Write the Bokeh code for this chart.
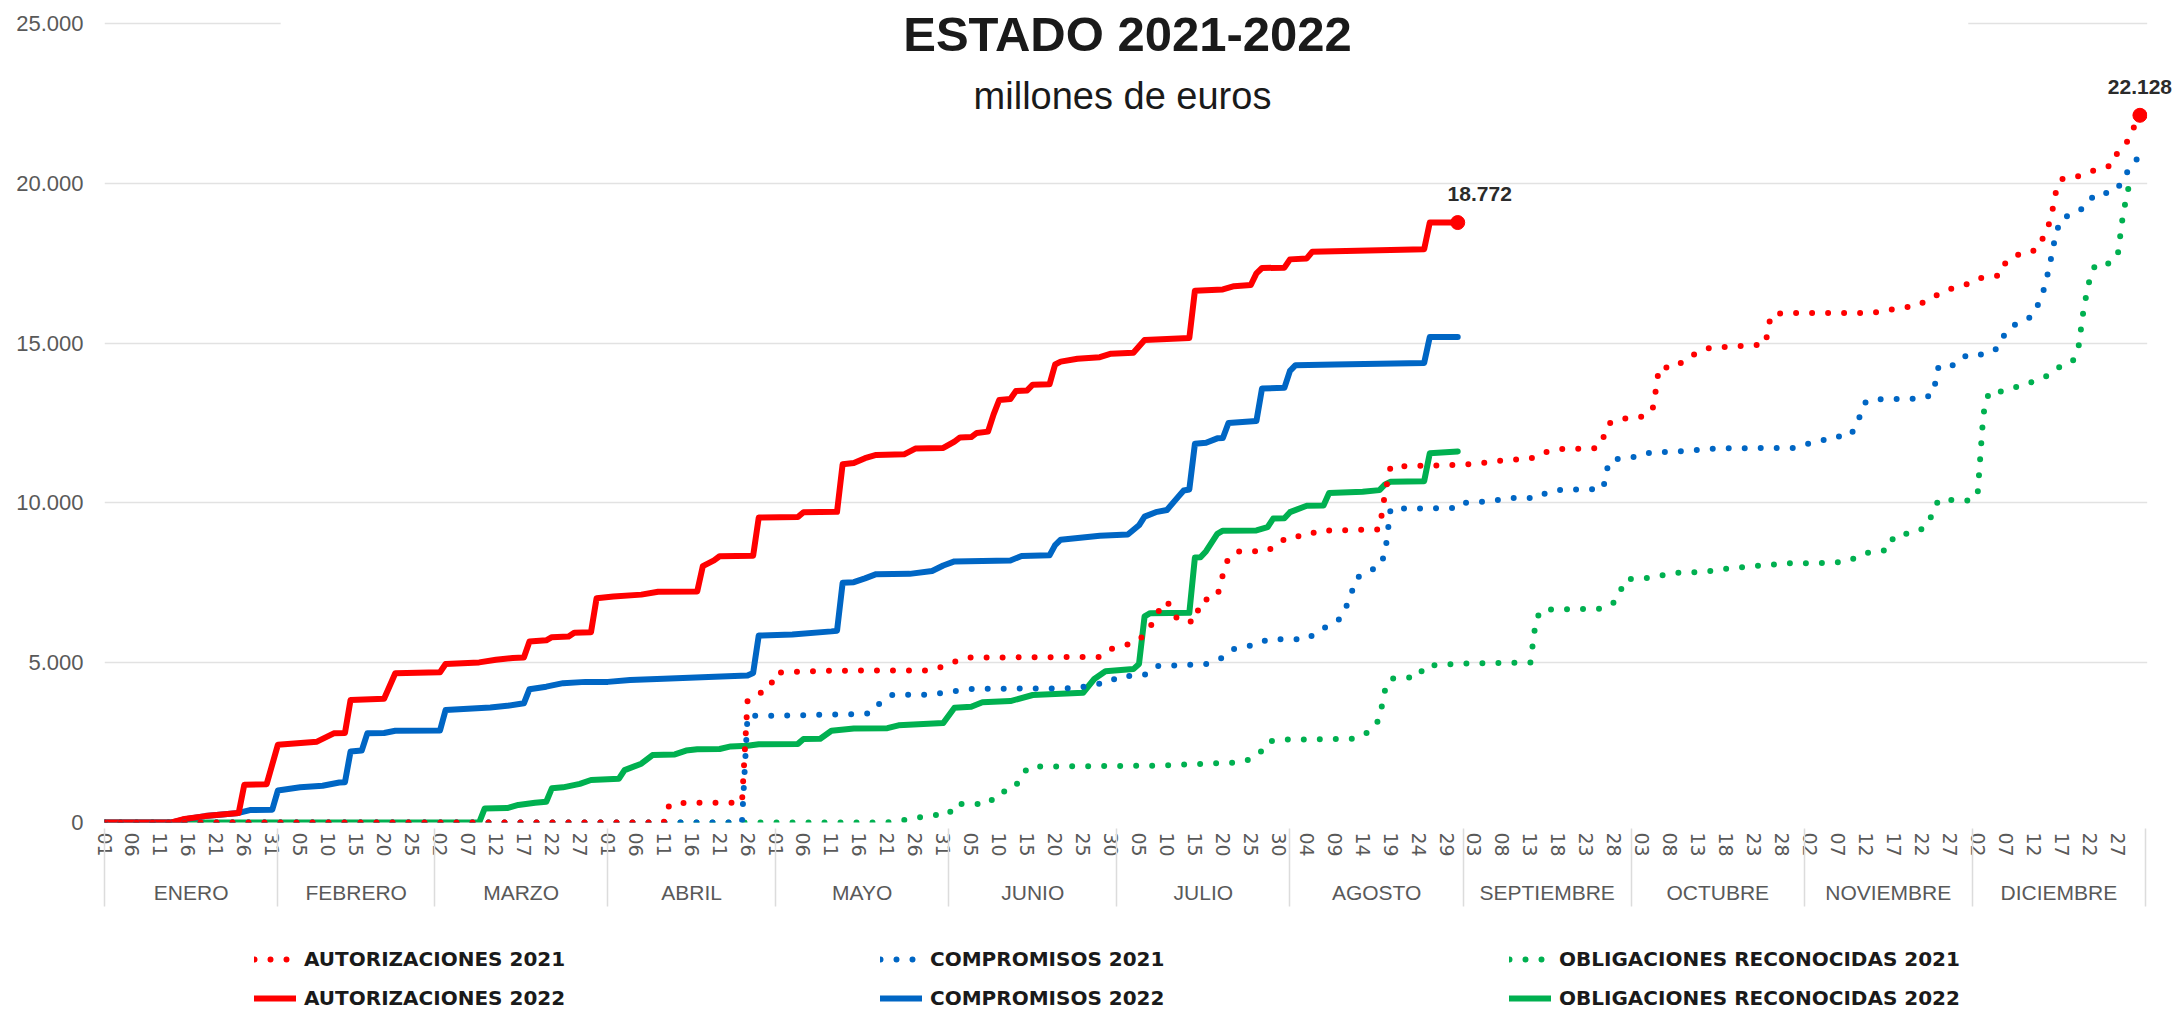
import datetime as dt
from bokeh.plotting import figure
from bokeh.layouts import column
from bokeh.models import (Range1d, FixedTicker, LinearAxis, Legend, LegendItem,
                          Label, BoxAnnotation)
from bokeh.embed import file_html
from bokeh.resources import INLINE

# ---------------- data (x = day of year, 0 = 1 January) ----------------
aut21_day = [0, 100, 101, 104, 114, 115, 117, 119, 120, 130, 148, 150, 152, 154, 178, 180, 183, 185, 187, 188,
             190, 192, 195, 196, 199, 200, 201, 203, 208, 210, 212, 215, 217, 228, 229, 230, 240, 245, 250, 255,
             257, 260, 267, 268, 269, 271, 274, 276, 277, 278, 281, 283, 285, 287, 297, 298, 300, 316, 319, 321,
             324, 326, 328, 330, 333, 335, 337, 339, 340, 342, 344, 346, 347, 348, 349, 350, 352, 355, 357, 359,
             360, 362, 363, 364]
aut21_val = [0, 0, 550, 620, 620, 3810, 4020, 4220, 4690, 4750, 4760, 4890, 5030, 5160, 5180, 5430, 5570, 5700, 6100, 6500,
             6930, 6320, 6280, 6930, 7070, 7750, 8290, 8490, 8490, 8760, 8960, 8960, 9130, 9170, 10300, 11140, 11180, 11220, 11330, 11380,
             11560, 11680, 11710, 12020, 12480, 12630, 12660, 12750, 13010, 14240, 14240, 14545, 14700, 14850, 14960, 15880, 15940, 15940, 16030, 16110,
             16150, 16350, 16530, 16690, 16840, 17020, 17070, 17120, 17530, 17760, 17800, 17990, 18450, 18830, 19750, 20130, 20160, 20360, 20470, 20560,
             20970, 21360, 21790, 22128]

cmp21_day = [0, 114, 115, 120, 134, 137, 139, 141, 148, 151, 155, 174, 176, 180, 181, 186, 188, 197, 200, 202,
             206, 208, 215, 217, 219, 221, 222, 223, 224, 226, 228, 229, 230, 242, 243, 248, 251, 256, 258, 260,
             268, 269, 271, 274, 276, 284, 286, 289, 302, 305, 307, 309, 312, 313, 315, 317, 325, 327, 328, 331,
             333, 336, 338, 339, 340, 342, 344, 345, 346, 347, 348, 349, 350, 352, 354, 356, 358, 360, 361, 363, 364]
cmp21_val = [0, 0, 3340, 3340, 3390, 3420, 3800, 4000, 4000, 4090, 4180, 4200, 4290, 4400, 4550, 4620, 4890, 4960, 5160, 5430,
             5570, 5730, 5730, 5970, 6170, 6380, 6720, 7190, 7660, 7870, 8000, 8410, 9820, 9840, 10000, 10050, 10150, 10150, 10330, 10400,
             10440, 11280, 11400, 11440, 11560, 11640, 11680, 11710, 11720, 11870, 11940, 12080, 12080, 12320, 13170, 13240, 13260, 13400, 14280, 14310,
             14620, 14650, 14770, 14960, 15360, 15620, 15770, 15880, 16300, 16760, 17560, 18450, 18910, 19030, 19240, 19670, 19700, 19800, 20210, 20590, 20970]

obl21_day = [0, 140, 143, 146, 149, 151, 152, 158, 160, 162, 164, 165, 167, 188, 203, 205, 207, 208, 210, 223,
             225, 227, 228, 229, 230, 235, 236, 238, 243, 255, 256, 257, 268, 270, 271, 272, 276, 281, 286, 291,
             296, 301, 309, 312, 314, 316, 319, 320, 322, 324, 326, 327, 328, 334, 335, 336, 337, 339, 341, 344,
             346, 348, 350, 352, 353, 354, 355, 356, 358, 360, 361, 362, 364]
obl21_val = [0, 0, 80, 170, 240, 250, 580, 580, 960, 990, 1370, 1710, 1750, 1780, 1880, 1980, 2250, 2520, 2590, 2620,
             2720, 2960, 3260, 4140, 4500, 4550, 4890, 4920, 4976, 5010, 6350, 6660, 6690, 6890, 7200, 7610, 7650, 7810, 7840, 7960,
             8040, 8110, 8120, 8190, 8370, 8470, 8530, 8960, 9030, 9080, 9290, 9720, 10100, 10070, 10330, 12780, 13470, 13480, 13580, 13730,
             13890, 14010, 14310, 14440, 14850, 16150, 16990, 17450, 17450, 17710, 19060, 19900, 19980]

aut22_day = [0, 12, 14, 18, 24, 25, 29, 31, 38, 41, 43, 44, 50, 52, 60, 61, 67, 70, 73, 75,
             76, 79, 80, 83, 84, 87, 88, 91, 96, 99, 106, 107, 109, 110, 116, 117, 124, 125, 131, 132,
             134, 136, 138, 143, 145, 150, 152, 153, 155, 156, 158, 159, 160, 162, 163, 165, 166, 169, 170, 171,
             174, 178, 180, 184, 186, 194, 195, 200, 202, 205, 206, 207, 211, 212, 215, 216, 236, 237, 242]
aut22_val = [0, 0, 100, 200, 300, 1180, 1200, 2430, 2530, 2790, 2800, 3830, 3870, 4670, 4700, 4960, 5010, 5090, 5150, 5160,
             5660, 5700, 5800, 5820, 5940, 5950, 7020, 7070, 7130, 7220, 7230, 8020, 8200, 8330, 8350, 9540, 9560, 9710, 9720, 11210,
             11250, 11400, 11500, 11520, 11700, 11720, 11920, 12050, 12060, 12190, 12230, 12770, 13220, 13250, 13500, 13520, 13700, 13710, 14330, 14420,
             14510, 14560, 14670, 14700, 15100, 15160, 16640, 16680, 16780, 16820, 17180, 17350, 17360, 17620, 17650, 17860, 17940, 18770, 18772]

cmp22_day = [0, 12, 15, 18, 24, 26, 30, 31, 35, 39, 42, 43, 44, 46, 47, 50, 52, 60, 61, 65,
             69, 72, 75, 76, 79, 82, 86, 90, 94, 100, 108, 115, 116, 117, 123, 130, 131, 132, 134, 136,
             138, 144, 148, 150, 152, 162, 164, 169, 170, 171, 178, 183, 185, 186, 188, 190, 192, 193, 194, 195,
             197, 199, 200, 201, 206, 207, 211, 212, 213, 220, 236, 237, 242]
cmp22_val = [0, 0, 120, 200, 300, 390, 400, 1000, 1100, 1150, 1250, 1260, 2220, 2250, 2790, 2800, 2870, 2880, 3520, 3560,
             3600, 3650, 3730, 4170, 4250, 4360, 4400, 4400, 4460, 4500, 4550, 4600, 4680, 5850, 5880, 5980, 6000, 7500, 7520, 7640,
             7770, 7780, 7870, 8040, 8170, 8200, 8340, 8360, 8680, 8850, 8970, 9010, 9300, 9570, 9710, 9780, 10190, 10390, 10420, 11850,
             11880, 12020, 12030, 12500, 12560, 13580, 13600, 14130, 14310, 14330, 14380, 15190, 15190]

obl22_day = [0, 67, 68, 72, 74, 77, 79, 80, 82, 85, 87, 92, 93, 96, 98, 102, 104, 106, 110, 112,
             115, 117, 124, 125, 128, 130, 134, 140, 142, 150, 152, 155, 157, 162, 166, 175, 177, 179, 184, 185,
             186, 187, 194, 195, 196, 197, 199, 200, 206, 208, 209, 211, 212, 215, 218, 219, 225, 228, 229, 230,
             236, 237, 242]
obl22_val = [0, 0, 440, 450, 550, 620, 650, 1070, 1100, 1210, 1330, 1370, 1640, 1840, 2110, 2130, 2250, 2290, 2300, 2380,
             2400, 2450, 2460, 2610, 2620, 2870, 2940, 2950, 3040, 3110, 3590, 3620, 3760, 3800, 3990, 4060, 4490, 4730, 4800, 4960,
             6450, 6550, 6560, 8290, 8300, 8490, 9030, 9130, 9140, 9240, 9510, 9520, 9710, 9910, 9920, 10310, 10350, 10400, 10580, 10660,
             10680, 11550, 11610]

series_names = ["AUTORIZACIONES 2021", "AUTORIZACIONES 2022", "COMPROMISOS 2021", "COMPROMISOS 2022",
                "OBLIGACIONES RECONOCIDAS 2021", "OBLIGACIONES RECONOCIDAS 2022"]
month_names = ["ENERO", "FEBRERO", "MARZO", "ABRIL", "MAYO", "JUNIO", "JULIO", "AGOSTO",
               "SEPTIEMBRE", "OCTUBRE", "NOVIEMBRE", "DICIEMBRE"]
y_ticks = [0, 5000, 10000, 15000, 20000, 25000]
title_text = "ESTADO 2021-2022"
subtitle_text = "millones de euros"

# ---------------- calendar helpers ----------------
start = dt.date(2021, 1, 1)
month_start = [(dt.date(2021, m, 1) - start).days for m in range(1, 13)] + [365]
month_mid = [(a + b) / 2 for a, b in zip(month_start[:-1], month_start[1:])]
day_ticks = list(range(0, 365, 5))
day_labels = {d: (start + dt.timedelta(days=d)).strftime("%d") for d in day_ticks}

def fmt(v):
    return f"{int(round(v)):,}".replace(",", ".")

RED, BLUE, GREEN = "#FF0000", "#0066C4", "#00B050"
GRAY = "#595959"
SEP = "#dcdcdc"

W = 2177
H1 = 915
H2 = 1011 - H1

p = figure(width=W, height=H1, output_backend="svg", toolbar_location=None,
           x_range=Range1d(0, 370.72), y_range=Range1d(0, 25720),
           min_border_left=104, min_border_right=0, min_border_top=0, min_border_bottom=H1 - 822)
p.outline_line_color = None
p.xgrid.visible = False
p.ygrid.ticker = FixedTicker(ticks=y_ticks)
p.ygrid.grid_line_color = "#e2e2e2"
p.ygrid.grid_line_width = 1.5

# y axis
ya = p.yaxis[0]
ya.ticker = FixedTicker(ticks=y_ticks)
ya.major_label_overrides = {v: fmt(v) for v in y_ticks}
ya.axis_line_color = None
ya.major_tick_line_color = None
ya.minor_tick_line_color = None
ya.major_tick_out = 0
ya.major_label_standoff = 21
ya.major_label_text_font = "Liberation Sans"
ya.major_label_text_font_size = "22px"
ya.major_label_text_color = GRAY

# x axis: days of month
xa = p.xaxis[0]
xa.ticker = FixedTicker(ticks=day_ticks)
xa.major_label_overrides = day_labels
xa.major_label_orientation = "vertical"
xa.axis_line_color = None
xa.major_tick_line_color = None
xa.minor_tick_line_color = None
xa.major_tick_out = 0
xa.major_tick_in = 0
xa.major_label_standoff = 10
xa.major_label_text_font = "DejaVu Sans"
xa.major_label_text_font_size = "19px"
xa.major_label_text_color = GRAY

# x axis: month names
ma = LinearAxis(ticker=FixedTicker(ticks=month_mid),
                major_label_overrides={m: n for m, n in zip(month_mid, month_names)})
ma.axis_line_color = None
ma.major_tick_line_color = None
ma.minor_tick_line_color = None
ma.major_tick_out = 0
ma.major_tick_in = 0
ma.major_label_standoff = 21
ma.major_label_text_font = "Liberation Sans"
ma.major_label_text_font_size = "21px"
ma.major_label_text_color = GRAY
p.add_layout(ma, "below")

# month separators: ticks of an unlabeled axis reaching up to the plot
sa = LinearAxis(ticker=FixedTicker(ticks=month_start),
                major_label_overrides={m: "" for m in month_start})
sa.axis_line_color = None
sa.minor_tick_line_color = None
sa.major_tick_out = 0
sa.major_tick_in = 78
sa.major_tick_line_color = SEP
sa.major_tick_line_width = 1.5
sa.major_label_standoff = 0
sa.major_label_text_font_size = "1px"
p.add_layout(sa, "below")

# white boxes: title background and right margin (hide grid lines there)
p.add_layout(BoxAnnotation(left=31.5, right=333.3, bottom=24000, top=26000,
                           fill_color="white", fill_alpha=1, line_color=None))
p.add_layout(BoxAnnotation(left=365.3, right=372, bottom=-500, top=26000,
                           fill_color="white", fill_alpha=1, line_color=None))

DOT = "0 16"
def draw(fig, days, vals, color, dash):
    return fig.line(days, vals, line_color=color, line_width=6, line_dash=dash,
                    line_cap="round", line_join="round")

draw(p, obl22_day, obl22_val, GREEN, "solid")
draw(p, cmp22_day, cmp22_val, BLUE, "solid")
draw(p, aut22_day, aut22_val, RED, "solid")
draw(p, obl21_day, obl21_val, GREEN, DOT)
draw(p, cmp21_day, cmp21_val, BLUE, DOT)
draw(p, aut21_day, aut21_val, RED, DOT)

p.scatter([aut22_day[-1], aut21_day[-1]], [aut22_val[-1], aut21_val[-1]],
          size=14, fill_color=RED, line_color=RED)

lab_kw = dict(text_font="Liberation Sans", text_font_style="bold", text_font_size="21px",
              text_color="#2b2b2b", text_align="center", text_baseline="middle")
p.add_layout(Label(x=aut22_day[-1], y=aut22_val[-1], x_offset=22, y_offset=29,
                   text=fmt(aut22_val[-1]), **lab_kw))
p.add_layout(Label(x=aut21_day[-1], y=aut21_val[-1], x_offset=0, y_offset=28,
                   text=fmt(aut21_val[-1]), **lab_kw))

# titles (screen units measured from the plot frame's bottom-left corner)
p.add_layout(Label(x=1023, y=789, x_units="screen", y_units="screen", text=title_text,
                   text_font="Liberation Sans", text_font_style="bold", text_font_size="49px",
                   text_color="#1a1a1a", text_align="center", text_baseline="middle"))
p.add_layout(Label(x=1018, y=727, x_units="screen", y_units="screen", text=subtitle_text,
                   text_font="Liberation Sans", text_font_size="38px",
                   text_color="#1a1a1a", text_align="center", text_baseline="middle"))

# ---------------- legend strip ----------------
p2 = figure(width=W, height=H2, output_backend="svg", toolbar_location=None,
            x_axis_location=None, y_axis_location=None, min_border=0,
            x_range=Range1d(0, 1), y_range=Range1d(0, 1))
p2.outline_line_color = None
p2.xgrid.visible = False
p2.ygrid.visible = False

# legend proxies: placed outside the visible range of the legend strip
proxy_x, proxy_y = [-5, -4], [-5, -5]
l_a21 = draw(p2, proxy_x, proxy_y, RED, DOT)
l_a22 = draw(p2, proxy_x, proxy_y, RED, "solid")
l_c21 = draw(p2, proxy_x, proxy_y, BLUE, DOT)
l_c22 = draw(p2, proxy_x, proxy_y, BLUE, "solid")
l_o21 = draw(p2, proxy_x, proxy_y, GREEN, DOT)
l_o22 = draw(p2, proxy_x, proxy_y, GREEN, "solid")

def legend(items, vx):
    lg = Legend(items=items, location=(vx, 1), orientation="vertical",
                glyph_width=42, glyph_height=22, label_height=22, spacing=15,
                padding=0, margin=0, label_standoff=8,
                border_line_color=None, background_fill_alpha=0,
                label_text_font="DejaVu Sans", label_text_font_style="bold",
                label_text_font_size="20px", label_text_color="#1a1a1a")
    p2.add_layout(lg)

# x positions are measured from the legend strip's frame (aligned with the chart frame)
legend([LegendItem(label=series_names[0], renderers=[l_a21]),
        LegendItem(label=series_names[1], renderers=[l_a22])], 150)
legend([LegendItem(label=series_names[2], renderers=[l_c21]),
        LegendItem(label=series_names[3], renderers=[l_c22])], 776)
legend([LegendItem(label=series_names[4], renderers=[l_o21]),
        LegendItem(label=series_names[5], renderers=[l_o22])], 1405)

open("out.html", "w").write(file_html(column(p, p2, spacing=0), INLINE))
